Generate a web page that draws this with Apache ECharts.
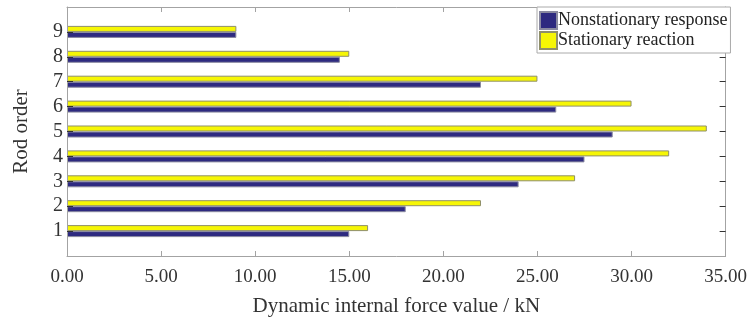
<!DOCTYPE html>
<html>
<head>
<meta charset="utf-8">
<script src="https://cdn.jsdelivr.net/npm/echarts@6/dist/echarts.min.js"></script>
<style>
  html, body { margin: 0; padding: 0; background: #fff; }
  #chart { width: 750px; height: 329px; }
</style>
</head>
<body>
<div id="chart"></div>
<script>
// Rod numbers shown on the vertical axis
const rods = ['1', '2', '3', '4', '5', '6', '7', '8', '9'];
// Dynamic internal force per rod, kN
const nonstationary = [15, 18, 24, 27.5, 29, 26, 22, 14.5, 9];
const stationary = [16, 22, 27, 32, 34, 30, 25, 15, 9];
// Horizontal axis ticks
const forceTicks = { min: 0, max: 35, step: 5 };

const serif = '"Liberation Serif", "Times New Roman", serif';
const frameColor = '#a3a3a3';

// One empty slot above and below the rods so they sit a full step from the frame
const yCats = ['lo'].concat(rods, ['hi']);
const pad = arr => ['-'].concat(arr, ['-']);
const isRod = (i) => i > 0 && i < yCats.length - 1;

const chart = echarts.init(document.getElementById('chart'), null, { renderer: 'canvas' });

const xBase = {
  type: 'value',
  min: forceTicks.min,
  max: forceTicks.max,
  interval: forceTicks.step,
  z: 5,
  splitLine: { show: false },
  axisLine: { show: true, onZero: false, lineStyle: { color: frameColor, width: 1 } },
  axisTick: { show: true, inside: true, length: 5, lineStyle: { color: frameColor } }
};

const yBase = {
  type: 'category',
  data: yCats,
  boundaryGap: false,
  z: 5,
  splitLine: { show: false },
  axisLine: { show: true, onZero: false, lineStyle: { color: frameColor, width: 1 } },
  axisTick: {
    show: true, inside: true, length: 6,
    interval: (i) => isRod(i),
    lineStyle: { color: '#333' }
  }
};

chart.setOption({
  animation: false,
  backgroundColor: '#fff',
  grid: { left: 67, right: 23, top: 7, bottom: 73 },
  legend: {
    orient: 'vertical',
    left: 537,
    top: 7,
    padding: [4, 3, 3, 2],
    itemGap: 1,
    itemWidth: 17,
    itemHeight: 17,
    icon: 'rect',
    borderColor: '#aaa',
    borderWidth: 1,
    backgroundColor: '#fff',
    z: 10,
    data: ['Nonstationary response', 'Stationary reaction'],
    textStyle: { fontFamily: serif, fontSize: 18, color: '#222', padding: [0, 0, 0, -4] }
  },
  xAxis: [
    Object.assign({}, xBase, {
      position: 'bottom',
      axisLabel: {
        show: true,
        margin: 12,
        fontFamily: serif,
        fontSize: 19,
        color: '#333',
        formatter: (v) => v.toFixed(2)
      },
      name: 'Dynamic internal force value / kN',
      nameLocation: 'middle',
      nameGap: 40,
      nameTextStyle: { fontFamily: serif, fontSize: 21, color: '#333' }
    }),
    Object.assign({}, xBase, {
      position: 'top',
      axisLabel: { show: false }
    })
  ],
  yAxis: [
    Object.assign({}, yBase, {
      position: 'left',
      axisLabel: {
        show: true,
        margin: 4,
        interval: (i) => isRod(i),
        fontFamily: serif,
        fontSize: 20,
        color: '#333'
      },
      name: 'Rod order',
      nameLocation: 'middle',
      nameRotate: 90,
      nameGap: 35,
      nameTextStyle: { fontFamily: serif, fontSize: 21, color: '#333' }
    }),
    Object.assign({}, yBase, {
      position: 'right',
      axisLabel: { show: false }
    })
  ],
  series: [
    {
      name: 'Stationary reaction',
      type: 'bar',
      xAxisIndex: 0,
      yAxisIndex: 0,
      data: pad(stationary),
      barWidth: 6,
      barGap: '0%',
      itemStyle: { color: '#f6f605', borderColor: '#8f8f6a', borderWidth: 1 }
    },
    {
      name: 'Nonstationary response',
      type: 'bar',
      xAxisIndex: 0,
      yAxisIndex: 0,
      data: pad(nonstationary),
      barWidth: 6,
      barGap: '0%',
      itemStyle: { color: '#2e2a80', borderColor: '#8a8aa0', borderWidth: 1 }
    }
  ]
});
</script>
</body>
</html>
